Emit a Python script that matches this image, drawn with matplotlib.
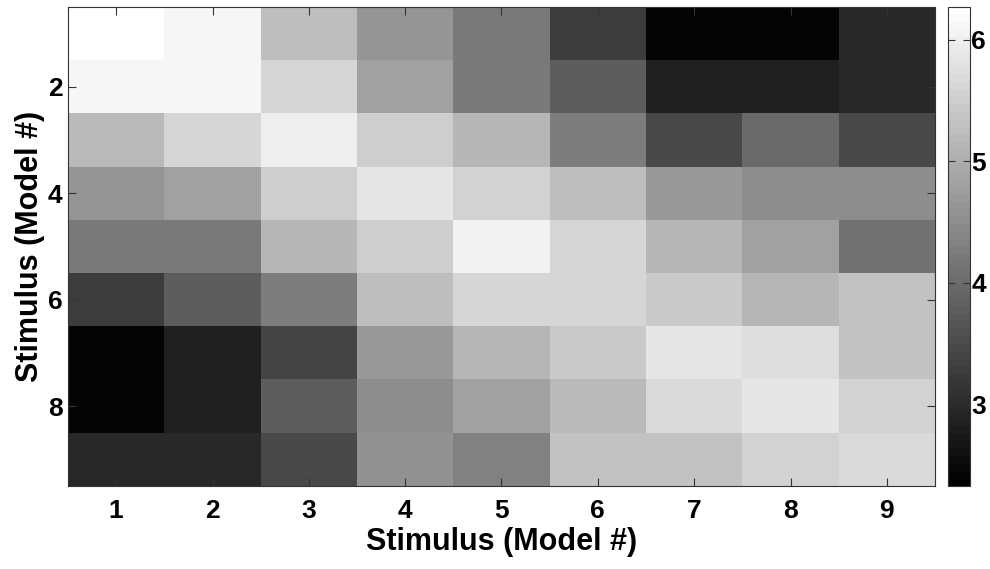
import matplotlib
matplotlib.use('Agg')
import matplotlib.pyplot as plt
import numpy as np

# 9x9 matrix, rows = stimulus (model #) on y, columns = stimulus (model #) on x
row1 = [6.27, 6.12, 5.27, 4.65, 4.18, 3.26, 2.41, 2.41, 2.95]
row2 = [6.12, 6.12, 5.65, 4.80, 4.18, 3.80, 2.87, 2.87, 2.95]
row3 = [5.19, 5.65, 6.01, 5.50, 5.11, 4.26, 3.49, 3.95, 3.49]
row4 = [4.65, 4.80, 5.50, 5.85, 5.57, 5.27, 4.72, 4.49, 4.49]
row5 = [4.18, 4.18, 5.11, 5.50, 6.04, 5.65, 5.11, 4.80, 4.11]
row6 = [3.26, 3.80, 4.26, 5.27, 5.65, 5.65, 5.42, 5.11, 5.34]
row7 = [2.41, 2.87, 3.41, 4.72, 5.11, 5.42, 5.88, 5.73, 5.34]
row8 = [2.41, 2.87, 3.80, 4.49, 4.80, 5.19, 5.70, 5.85, 5.57]
row9 = [2.95, 2.95, 3.49, 4.57, 4.34, 5.34, 5.34, 5.54, 5.70]

vmin, vmax = 2.33, 6.27
xticks = [1, 2, 3, 4, 5, 6, 7, 8, 9]
yticks = [2, 4, 6, 8]
cbticks = [3, 4, 5, 6]

M = np.array([row1, row2, row3, row4, row5, row6, row7, row8, row9])

plt.rcParams['font.family'] = ['Liberation Sans', 'DejaVu Sans']
plt.rcParams['font.weight'] = 'bold'

fig = plt.figure(figsize=(9.9, 5.69), dpi=100)
ax = fig.add_axes([68/990, 1-486/569, (935-68)/990, (486-7)/569])
cax = fig.add_axes([948/990, 1-486/569, 22/990, (486-7)/569])

cmap = plt.get_cmap('gray', 64)
im = ax.imshow(M, cmap=cmap, vmin=vmin, vmax=vmax, aspect='auto',
               interpolation='nearest',
               extent=[0.5, 9.5, 9.5, 0.5])

ax.set_xticks(xticks)
ax.set_yticks(yticks)
ax.tick_params(direction='in', length=6, width=0.8, top=True, right=True,
               labelsize=19, color='#333333')
ax.tick_params(axis='x', pad=9)
ax.tick_params(axis='y', pad=4)
for lab in ax.get_xticklabels() + ax.get_yticklabels():
    lab.set_fontweight('bold')
ax.set_xlabel('Stimulus (Model #)', fontsize=22, fontweight='bold', labelpad=3)
ax.set_ylabel('Stimulus (Model #)', fontsize=22, fontweight='bold', labelpad=2)
for s in ax.spines.values():
    s.set_linewidth(0.8)
    s.set_color('#333333')

cb = fig.colorbar(im, cax=cax, ticks=cbticks)
cb.ax.tick_params(direction='in', length=5, width=0.8, left=True, right=True,
                  labelsize=19, pad=1, color='#333333')
for lab in cb.ax.get_yticklabels():
    lab.set_fontweight('bold')
cb.outline.set_linewidth(0.8)
cb.outline.set_edgecolor('#333333')

fig.savefig('out.png', dpi=100)
